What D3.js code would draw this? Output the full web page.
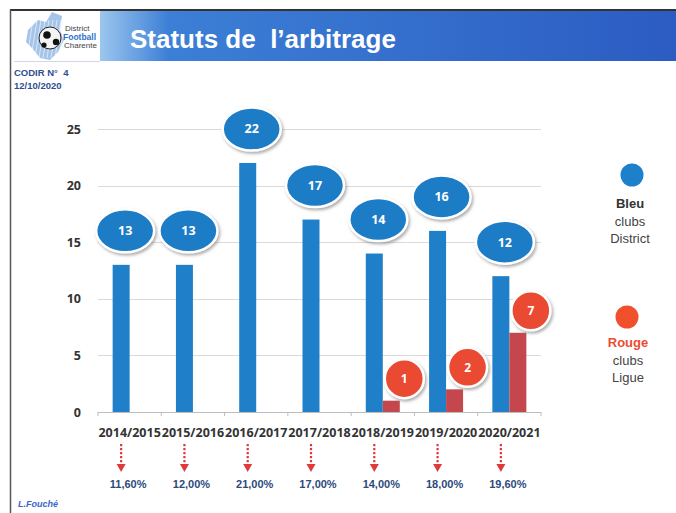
<!DOCTYPE html>
<meta charset="utf-8">
<script src="https://d3js.org/d3.v7.min.js"></script>
<style>
  body { margin: 0; background: #fff; }
</style>
<div id="my_dataviz"></div>
<script>

// data
var seasons = ["2014/2015", "2015/2016", "2016/2017", "2017/2018", "2018/2019", "2019/2020", "2020/2021"];
var bleu = [13, 13, 22, 17, 14, 16, 12];          // clubs District
var rouge = [null, null, null, null, 1, 2, 7];    // clubs Ligue
var pourcentages = ["11,60%", "12,00%", "21,00%", "17,00%", "14,00%", "18,00%", "19,60%"];
var yTicks = [0, 5, 10, 15, 20, 25];

var W = 676, H = 513;
var svg = d3.select("#my_dataviz")
  .append("svg")
    .attr("width", W)
    .attr("height", H);

var defs = svg.append("defs");
var grad = defs.append("linearGradient").attr("id", "banner");
grad.append("stop").attr("offset", "0%").attr("stop-color", "#9cc6ee");
grad.append("stop").attr("offset", "12%").attr("stop-color", "#3c7fd6");
grad.append("stop").attr("offset", "100%").attr("stop-color", "#2c5cc2");

var shadow = defs.append("filter").attr("id", "shadow")
  .attr("x", "-30%").attr("y", "-30%").attr("width", "160%").attr("height", "170%");
shadow.append("feDropShadow")
  .attr("dx", 1.5).attr("dy", 2).attr("stdDeviation", 1.5)
  .attr("flood-color", "#777").attr("flood-opacity", 0.6);

// slide frame
svg.append("line").attr("x1", 10).attr("x2", W).attr("y1", 10).attr("y2", 10)
  .attr("stroke", "#333").attr("stroke-width", 2);
svg.append("line").attr("x1", 10.5).attr("x2", 10.5).attr("y1", 10).attr("y2", H)
  .attr("stroke", "#555").attr("stroke-width", 1.5);

// banner
svg.append("rect").attr("x", 100).attr("y", 11).attr("width", W - 100).attr("height", 50)
  .attr("fill", "url(#banner)");
svg.append("line").attr("x1", 14).attr("x2", 100).attr("y1", 61.5).attr("y2", 61.5)
  .attr("stroke", "#cfd8e4");
svg.append("text")
  .attr("x", 130).attr("y", 48)
  .attr("fill", "#fff")
  .style("font-family", "Liberation Sans, Arial, sans-serif")
  .style("font-weight", "bold")
  .style("font-size", "26px")
  .attr("xml:space", "preserve")
  .text("Statuts de  l\u2019arbitrage");

// logo (simplified)
var logo = svg.append("g");
logo.append("path")
  .attr("d", "M28,30 L38,20 L46,22 L52,12 L62,16 L60,30 L64,40 L58,52 L50,60 L40,58 L32,48 L26,42 Z")
  .attr("fill", "#8fb5e4").attr("opacity", 0.8);
for (var i = 0; i < 9; i++) {
  logo.append("line")
    .attr("x1", 27 + i * 4).attr("y1", 58).attr("x2", 33 + i * 4).attr("y2", 20)
    .attr("stroke", "#fff").attr("stroke-width", 1).attr("opacity", 0.6);
}
logo.append("circle").attr("cx", 50).attr("cy", 38).attr("r", 11)
  .attr("fill", "#f4f4f4").attr("stroke", "#222").attr("stroke-width", 1);
logo.append("circle").attr("cx", 47).attr("cy", 35).attr("r", 3.8).attr("fill", "#111");
logo.append("circle").attr("cx", 56).attr("cy", 42).attr("r", 3.2).attr("fill", "#111");
logo.append("circle").attr("cx", 44).attr("cy", 45).attr("r", 2.6).attr("fill", "#111");
logo.append("text").attr("x", 65).attr("y", 31).text("District")
  .attr("fill", "#444").style("font-family", "Liberation Sans, sans-serif").style("font-size", "8px");
logo.append("text").attr("x", 63).attr("y", 39.5).text("Football")
  .attr("fill", "#2f72c8").style("font-family", "Liberation Sans, sans-serif").style("font-size", "8.5px").style("font-weight", "bold");
logo.append("text").attr("x", 64).attr("y", 48).text("Charente")
  .attr("fill", "#444").style("font-family", "Liberation Sans, sans-serif").style("font-size", "8px");

// top-left info
svg.append("text").attr("x", 14).attr("y", 76).text("CODIR N\u00b0  4")
  .attr("xml:space", "preserve")
  .attr("fill", "#2f4e8e").style("font-family", "Liberation Sans, sans-serif")
  .style("font-size", "9.5px").style("font-weight", "bold");
svg.append("text").attr("x", 14).attr("y", 89).text("12/10/2020")
  .attr("fill", "#2f4e8e").style("font-family", "Liberation Sans, sans-serif")
  .style("font-size", "9.5px").style("font-weight", "bold");
svg.append("text").attr("x", 18).attr("y", 507).text("L.Fouch\u00e9")
  .attr("fill", "#3a66c4").style("font-family", "Liberation Sans, sans-serif")
  .style("font-size", "9px").style("font-weight", "bold").style("font-style", "italic");

// scales
var x = d3.scaleBand()
  .domain(seasons)
  .range([98, 541]);
var y = d3.scaleLinear()
  .domain([0, 25])
  .range([412, 129]);
var half = 17;

var bleuData = bleu.map(function(v, i) { return {v: v, s: seasons[i]}; });
var rougeData = rouge.map(function(v, i) { return {v: v, s: seasons[i]}; })
  .filter(function(d) { return d.v != null; });

// gridlines
svg.append("g")
  .selectAll("line")
  .data(yTicks.slice(1))
  .enter().append("line")
    .attr("x1", 98).attr("x2", 541)
    .attr("y1", function(d) { return Math.round(y(d)) + 0.5; })
    .attr("y2", function(d) { return Math.round(y(d)) + 0.5; })
    .attr("stroke", "#dadada");

// y labels
svg.append("g")
  .selectAll("text")
  .data(yTicks)
  .enter().append("text")
    .attr("x", 81)
    .attr("y", function(d) { return y(d) + 4.5; })
    .attr("text-anchor", "end")
    .attr("fill", "#333")
    .style("font-family", "Open Sans, sans-serif")
    .style("font-size", "12.5px")
    .style("font-weight", "bold")
    .text(function(d) { return d; });

// x axis
var xAxis = svg.append("g")
  .attr("transform", "translate(0,412)")
  .call(d3.axisBottom(x).tickSize(0).tickPadding(16));
xAxis.select(".domain").attr("stroke", "#bdbdbd").attr("d", "M98,0.5H541");
xAxis.selectAll("text")
  .attr("fill", "#333")
  .style("font-family", "Open Sans, sans-serif")
  .style("font-size", "12.5px")
  .style("font-weight", "bold");
xAxis.selectAll(".edge")
  .data(seasons.concat(["end"]))
  .enter().append("line")
    .attr("class", "edge")
    .attr("x1", function(d, i) { return i < seasons.length ? x(d) : x.range()[1]; })
    .attr("x2", function(d, i) { return i < seasons.length ? x(d) : x.range()[1]; })
    .attr("y1", 0).attr("y2", 4)
    .attr("stroke", "#bdbdbd");

// bars
svg.append("g")
  .selectAll("rect")
  .data(bleuData)
  .enter().append("rect")
    .attr("x", function(d) { return x(d.s) + x.bandwidth() / 2 - half; })
    .attr("y", function(d) { return y(d.v); })
    .attr("width", half)
    .attr("height", function(d) { return y(0) - y(d.v); })
    .attr("fill", "#1f80c9");

svg.append("g")
  .selectAll("rect")
  .data(rougeData)
  .enter().append("rect")
    .attr("x", function(d) { return x(d.s) + x.bandwidth() / 2; })
    .attr("y", function(d) { return y(d.v); })
    .attr("width", half)
    .attr("height", function(d) { return y(0) - y(d.v); })
    .attr("fill", "#c4474e");

// blue bubbles
var bb = svg.append("g")
  .selectAll("g")
  .data(bleuData)
  .enter().append("g")
    .attr("transform", function(d) {
      return "translate(" + (x(d.s) + x.bandwidth() / 2 - half / 2 + 4) + "," + (y(d.v) - 34) + ")";
    });
bb.append("ellipse")
  .attr("rx", 29).attr("ry", 21.5)
  .attr("fill", "#1b7cc6")
  .attr("stroke", "#fff").attr("stroke-width", 2.5)
  .attr("filter", "url(#shadow)");
bb.append("text")
  .attr("y", 4.5)
  .attr("text-anchor", "middle")
  .attr("fill", "#fff")
  .style("font-family", "Open Sans, sans-serif")
  .style("font-size", "12.5px")
  .style("font-weight", "bold")
  .text(function(d) { return d.v; });

// red bubbles
var rb = svg.append("g")
  .selectAll("g")
  .data(rougeData)
  .enter().append("g")
    .attr("transform", function(d) {
      return "translate(" + (x(d.s) + x.bandwidth() / 2 + half / 2 + 13) + "," + (y(d.v) - 22) + ")";
    });
rb.append("circle")
  .attr("r", 19.5)
  .attr("fill", "#ea4a30")
  .attr("stroke", "#fff").attr("stroke-width", 2.5)
  .attr("filter", "url(#shadow)");
rb.append("text")
  .attr("y", 4.5)
  .attr("text-anchor", "middle")
  .attr("fill", "#fff")
  .style("font-family", "Open Sans, sans-serif")
  .style("font-size", "12px")
  .style("font-weight", "bold")
  .text(function(d) { return d.v; });

// percentages with dashed arrows
var pc = svg.append("g")
  .selectAll("g")
  .data(pourcentages)
  .enter().append("g")
    .attr("transform", function(d, i) { return "translate(" + (x(seasons[i]) + x.bandwidth() / 2 - half / 2) + ",0)"; });
pc.append("line")
  .attr("x1", 0).attr("x2", 0).attr("y1", 444).attr("y2", 465)
  .attr("stroke", "#e0393b").attr("stroke-width", 2.2)
  .attr("stroke-dasharray", "2.2,1.8");
pc.append("path")
  .attr("d", "M-4.5,464 L4.5,464 L0,472 Z")
  .attr("fill", "#e0393b");
pc.append("text")
  .attr("x", 7)
  .attr("y", 488)
  .attr("text-anchor", "middle")
  .attr("fill", "#2c4a7c")
  .style("font-family", "Liberation Sans, sans-serif")
  .style("font-size", "11px")
  .style("font-weight", "bold")
  .text(function(d) { return d; });

// legend
var legend = [
  {c: "#1d80cb", cx: 632, cy: 175, lines: ["Bleu", "clubs", "District"], tx: 630, ty: 208, first: "#333"},
  {c: "#f0502c", cx: 627, cy: 317, lines: ["Rouge", "clubs", "Ligue"], tx: 628, ty: 347, first: "#ee4b33"}
];
legend.forEach(function(l) {
  svg.append("circle").attr("cx", l.cx).attr("cy", l.cy).attr("r", 11.5).attr("fill", l.c);
  l.lines.forEach(function(t, k) {
    svg.append("text")
      .attr("x", l.tx).attr("y", l.ty + k * 17.5)
      .attr("text-anchor", "middle")
      .attr("fill", k === 0 ? l.first : "#444")
      .style("font-family", "Liberation Sans, sans-serif")
      .style("font-size", "13px")
      .style("font-weight", k === 0 ? "bold" : "normal")
      .text(t);
  });
});

</script>
